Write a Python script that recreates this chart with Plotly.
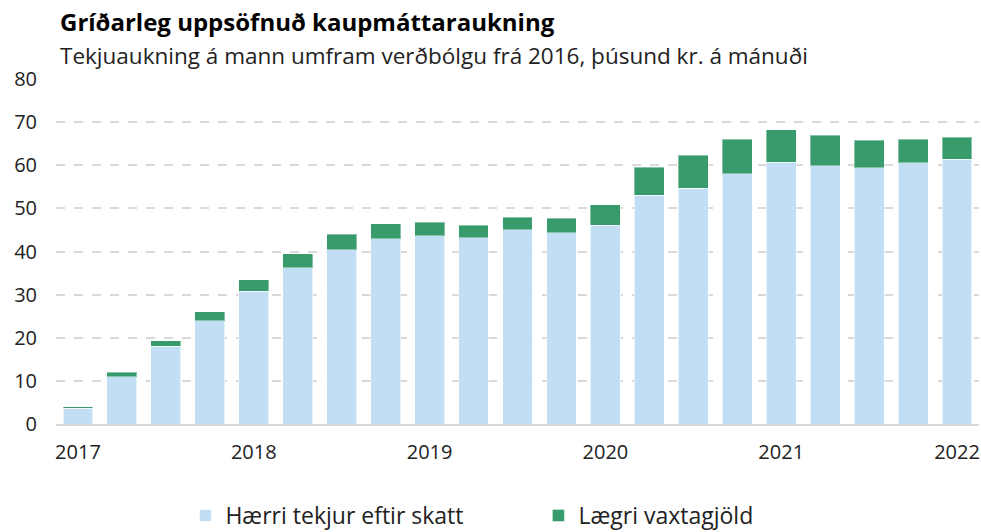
import plotly.graph_objects as go

quarters = [f"{y} F{q}" for y in range(2017, 2023) for q in range(1, 5)][:21]
hærri_tekjur = [3.6, 11.0, 18.0, 24.0, 30.8, 36.2, 40.4, 42.9, 43.6, 43.2, 45.1,
                44.3, 46.1, 53.1, 54.7, 58.0, 60.7, 59.9, 59.4, 60.6, 61.4]
heild = [4.0, 12.0, 19.3, 26.0, 33.5, 39.5, 44.0, 46.4, 46.8, 46.1, 48.0,
         47.7, 50.8, 59.5, 62.3, 66.0, 68.2, 67.0, 65.8, 66.0, 66.5]
lægri_vaxtagjöld = [round(t - b, 2) for t, b in zip(heild, hærri_tekjur)]
year_ticks = ["2017 F1", "2018 F1", "2019 F1", "2020 F1", "2021 F1", "2022 F1"]
year_labels = ["2017", "2018", "2019", "2020", "2021", "2022"]
y_ticks = [0, 10, 20, 30, 40, 50, 60, 70, 80]

FONT = "Open Sans, Noto Sans, sans-serif"
BLUE = "#C1DEF4"
GREEN = "#379B6C"

fig = go.Figure()
fig.add_trace(go.Bar(x=quarters, y=hærri_tekjur, name="Hærri tekjur eftir skatt",
                     marker=dict(color=BLUE, line=dict(color="rgba(255,255,255,0.6)", width=1))))
fig.add_trace(go.Bar(x=quarters, y=lægri_vaxtagjöld, name="Lægri vaxtagjöld",
                     marker=dict(color=GREEN, line=dict(color="rgba(255,255,255,0.4)", width=1))))

fig.update_layout(
    barmode="stack",
    bargap=0.32,
    width=981, height=532,
    margin=dict(l=56, r=2, t=79, b=108, autoexpand=False),
    paper_bgcolor="white", plot_bgcolor="white",
    font=dict(family=FONT, size=20, color="#222222"),
    showlegend=True,
    legend=dict(orientation="h", xref="container", yref="container",
                x=0.189, xanchor="left", y=0.031, yanchor="middle",
                font=dict(size=23, color="#222222"),
                entrywidth=308, entrywidthmode="pixels",
                traceorder="normal"),
    annotations=[
        dict(text="<b>Gríðarleg uppsöfnuð kaupmáttaraukning</b>", xref="paper", yref="paper",
             x=0.002, y=1.168, xanchor="left", yanchor="middle", showarrow=False,
             font=dict(size=24, color="#000000", family=FONT)),
        dict(text="Tekjuaukning á mann umfram verðbólgu frá 2016, þúsund kr. á mánuði",
             xref="paper", yref="paper",
             x=0.002, y=1.068, xanchor="left", yanchor="middle", showarrow=False,
             font=dict(size=22.5, color="#222222", family=FONT)),
    ],
)
fig.update_xaxes(type="category", tickvals=year_ticks, ticktext=year_labels,
                 showgrid=False, showline=True, linecolor="#D9D9D9", linewidth=2,
                 ticks="", ticklabelstandoff=9, tickfont=dict(size=20), automargin=False)
fig.update_yaxes(range=[0, 80], tickvals=y_ticks, showgrid=True, gridcolor="#D9D9D9",
                 gridwidth=2, griddash="dash", zeroline=False, showline=False,
                 ticks="", ticklabelstandoff=18, tickfont=dict(size=20), automargin=False)

fig.write_html("out.html", config={"displayModeBar": False},
               post_script="document.body.style.margin='0';")
